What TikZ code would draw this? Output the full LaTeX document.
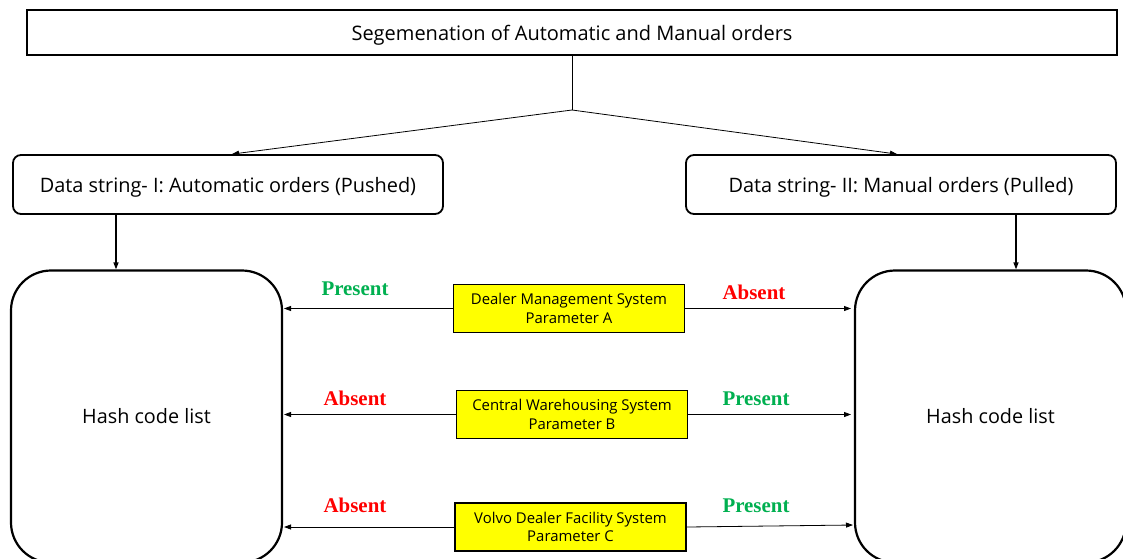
\documentclass[tikz,border=0pt]{standalone}
\usepackage{fontspec}
\setmainfont{Open Sans}
\newfontfamily\labelfont{Liberation Serif}
\usetikzlibrary{arrows.meta,calc}
\definecolor{okgreen}{RGB}{0,176,80}
\definecolor{nored}{RGB}{255,0,0}
\definecolor{paramyellow}{RGB}{255,255,0}
\tikzset{
  headbox/.style={draw, line width=2pt, minimum width=1090pt, minimum height=45pt, inner sep=0pt, text height=18pt, text depth=2pt, font=\fontsize{20}{24}\selectfont},
  strbox/.style={draw, line width=1.8pt, rounded corners=8pt, minimum width=430pt, minimum height=59pt, inner sep=0pt, text height=18pt, text depth=2pt, font=\fontsize{19.9}{24}\selectfont},
  hashbox/.style={draw, line width=2.2pt, rounded corners=40pt, minimum width=271pt, minimum height=292pt, inner sep=0pt, font=\fontsize{19.8}{24}\selectfont},
  parambox/.style={draw, fill=paramyellow, line width=1.8pt, minimum width=231pt, minimum height=48pt, inner sep=0pt, align=center, font=\fontsize{14.9}{18.5}\selectfont},
  link/.style={line width=0.8pt},
  arr/.style={line width=0.8pt, -{Triangle[length=7pt,width=5pt]}},
  darr/.style={line width=1.3pt, -{Triangle[length=7pt,width=5pt]}},
  yes/.style={font=\labelfont\bfseries\fontsize{20.9}{24}\selectfont, text=okgreen},
  no/.style={font=\labelfont\bfseries\fontsize{20.9}{24}\selectfont, text=nored},
}
\begin{document}
\begin{tikzpicture}[x=1pt,y=-1pt]
\useasboundingbox (0,0) rectangle (1123,558);
\clip (0,0) rectangle (1123,558);
\fill[white] (0,0) rectangle (1123,558);

% heading and the two data strings
\node[headbox] (top) at (572,32.5) {Segemenation of Automatic and Manual orders};
\node[strbox] (d1) at (228,184.5) {Data string- I: Automatic orders (Pushed)};
\node[strbox] (d2) at (901,184.5) {Data string- II: Manual orders (Pulled)};

% hash code lists
\node[hashbox] (h1) at (146.5,416.5) {Hash code list};
\node[hashbox] (h2) at (990.5,416.5) {Hash code list};

% parameters
\node[parambox] (pa) at (569,308.5) {Dealer Management System\\Parameter A};
\node[parambox] (pb) at (572,414.5) {Central Warehousing System\\Parameter B};
\node[parambox] (pc) at (570.5,527) {Volvo Dealer Facility System\\Parameter C};

% split into the two strings
\coordinate (split) at (572,110);
\draw[link] (top.south) -- (split);
\draw[arr] (split) -- ($(d1.north)+(4,0)$);
\draw[arr] (split) -- ($(d2.north)+(-4,0)$);

% strings feed their hash lists
\draw[darr] (d1.south -| 116,0) -- (h1.north -| 116,0);
\draw[darr] (d2.south -| 1016,0) -- (h2.north -| 1016,0);

% parameter links
\draw[arr] (pa.west) -- (284,308.5);
\draw[arr] (pa.east) -- (851,308.5);
\draw[arr] (pb.west) -- (284,414.5);
\draw[arr] (pb.east) -- (851,414.5);
\draw[arr] (pc.west) -- (284,527);
\draw[arr] (pc.east) -- (853,525);

% presence labels
\node[yes] (la) at (355,289) {Present};
\node[no]  (ra) at (754,292) {Absent};
\node[no]  (lb) at (355,398) {Absent};
\node[yes] (rb) at (756,399) {Present};
\node[no]  (lc) at (355,505) {Absent};
\node[yes] (rc) at (756,506) {Present};
\end{tikzpicture}
\end{document}
